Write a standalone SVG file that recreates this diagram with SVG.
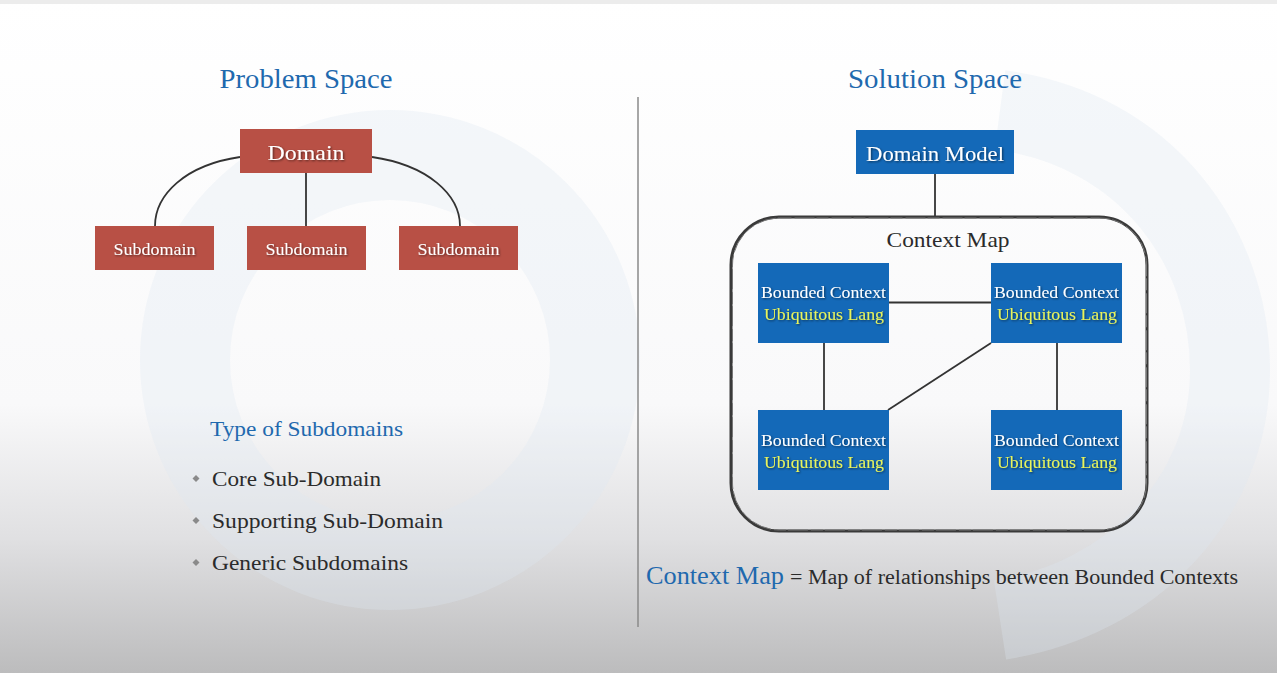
<svg xmlns="http://www.w3.org/2000/svg" width="1277" height="673" viewBox="0 0 1277 673">
<defs>
<linearGradient id="bg" x1="0" y1="0" x2="0" y2="1">
<stop offset="0" stop-color="#ffffff"/>
<stop offset="0.6" stop-color="#f9f9fa"/>
<stop offset="0.8" stop-color="#e0e0e2"/>
<stop offset="1" stop-color="#bcbcbd"/>
</linearGradient>
<filter id="sh" x="-10%" y="-30%" width="120%" height="160%">
<feDropShadow dx="1" dy="1" stdDeviation="0.8" flood-color="#000" flood-opacity="0.55"/>
</filter>
<style>
.t{font-family:"Liberation Serif","DejaVu Serif",serif;}
.blue{fill:#1f69ae;}
.dark{fill:#2b2b2b;}
.red{fill:#b85045;}
.bc{fill:#1469b8;}
.w{fill:#ffffff;}
.y{fill:#e9f35a;}
.ln{stroke:#333;stroke-width:1.8;fill:none;}
</style>
</defs>
<rect width="1277" height="673" fill="url(#bg)"/>
<rect width="1277" height="4" fill="#ececec"/>
<!-- faint watermark -->
<g fill="none" stroke="#dfe7f3" stroke-opacity="0.3">
<circle cx="390" cy="360" r="205" stroke-width="90"/>
<path d="M1000,110 C1150,130 1230,250 1230,370 C1230,500 1130,600 1000,620" stroke-width="80"/>
</g>
<line x1="638" y1="97" x2="638" y2="627" stroke="#8a8a8a" stroke-width="1.5"/>

<text class="t blue" x="306" y="88" font-size="27" text-anchor="middle" textLength="173" lengthAdjust="spacingAndGlyphs">Problem Space</text>
<text class="t blue" x="935" y="88" font-size="27" text-anchor="middle" textLength="174" lengthAdjust="spacingAndGlyphs">Solution Space</text>

<g id="connectors">
<path class="ln" d="M306,173 V226"/>
<path class="ln" d="M240,157 C185,165 155,195 155,226"/>
<path class="ln" d="M372,157 C428,165 460,195 460,226"/>
<path class="ln" d="M935,174 V217"/>
<path class="ln" stroke="#444" d="M889,302.5 H991"/>
<path class="ln" stroke="#444" d="M824,343 V410"/>
<path class="ln" stroke="#444" d="M1057,343 V410"/>
<path class="ln" stroke="#444" d="M991,343 L888,410"/>
</g>

<g id="domain">
<rect class="red" x="240" y="129" width="132" height="44"/>
<text class="t w" filter="url(#sh)" x="306" y="160" font-size="22" text-anchor="middle" textLength="77" lengthAdjust="spacingAndGlyphs">Domain</text>
</g>
<g id="subdomain1">
<rect class="red" x="95" y="226" width="119" height="44"/>
<text class="t w" filter="url(#sh)" x="154.5" y="255" font-size="16" text-anchor="middle" textLength="82" lengthAdjust="spacingAndGlyphs">Subdomain</text>
</g>
<g id="subdomain2">
<rect class="red" x="247" y="226" width="119" height="44"/>
<text class="t w" filter="url(#sh)" x="306.5" y="255" font-size="16" text-anchor="middle" textLength="82" lengthAdjust="spacingAndGlyphs">Subdomain</text>
</g>
<g id="subdomain3">
<rect class="red" x="399" y="226" width="119" height="44"/>
<text class="t w" filter="url(#sh)" x="458.5" y="255" font-size="16" text-anchor="middle" textLength="82" lengthAdjust="spacingAndGlyphs">Subdomain</text>
</g>

<g id="domain-model">
<rect class="bc" x="856" y="130" width="158" height="44"/>
<text class="t w" filter="url(#sh)" x="935" y="161" font-size="22" text-anchor="middle" textLength="138" lengthAdjust="spacingAndGlyphs">Domain Model</text>
</g>

<g id="context-map">
<rect x="731" y="217" width="416" height="314" rx="48" ry="48" fill="none" stroke="#3a3a3a" stroke-width="3"/>
<rect x="732.5" y="218" width="414" height="312" rx="47" ry="47" fill="none" stroke="#777" stroke-width="1" stroke-dasharray="12 3 20 2"/>
<text class="t dark" x="948" y="247" font-size="22" text-anchor="middle" textLength="123" lengthAdjust="spacingAndGlyphs">Context Map</text>
</g>

<g id="bc1">
<rect class="bc" x="758" y="263" width="131" height="80"/>
<text class="t w" filter="url(#sh)" x="823.5" y="298" font-size="16" text-anchor="middle" textLength="125" lengthAdjust="spacingAndGlyphs">Bounded Context</text>
<text class="t y" filter="url(#sh)" x="824" y="320" font-size="16" text-anchor="middle" textLength="120" lengthAdjust="spacingAndGlyphs">Ubiquitous Lang</text>
</g>
<g id="bc2">
<rect class="bc" x="991" y="263" width="131" height="80"/>
<text class="t w" filter="url(#sh)" x="1056.5" y="298" font-size="16" text-anchor="middle" textLength="125" lengthAdjust="spacingAndGlyphs">Bounded Context</text>
<text class="t y" filter="url(#sh)" x="1057" y="320" font-size="16" text-anchor="middle" textLength="120" lengthAdjust="spacingAndGlyphs">Ubiquitous Lang</text>
</g>
<g id="bc3">
<rect class="bc" x="758" y="410" width="131" height="80"/>
<text class="t w" filter="url(#sh)" x="823.5" y="446" font-size="16" text-anchor="middle" textLength="125" lengthAdjust="spacingAndGlyphs">Bounded Context</text>
<text class="t y" filter="url(#sh)" x="824" y="468" font-size="16" text-anchor="middle" textLength="120" lengthAdjust="spacingAndGlyphs">Ubiquitous Lang</text>
</g>
<g id="bc4">
<rect class="bc" x="991" y="410" width="131" height="80"/>
<text class="t w" filter="url(#sh)" x="1056.5" y="446" font-size="16" text-anchor="middle" textLength="125" lengthAdjust="spacingAndGlyphs">Bounded Context</text>
<text class="t y" filter="url(#sh)" x="1057" y="468" font-size="16" text-anchor="middle" textLength="120" lengthAdjust="spacingAndGlyphs">Ubiquitous Lang</text>
</g>

<g id="types">
<text class="t blue" x="210" y="436" font-size="21" textLength="193" lengthAdjust="spacingAndGlyphs">Type of Subdomains</text>
<g fill="#8a8a8a">
<path d="M196,475 l3.5,3.5 l-3.5,3.5 l-3.5,-3.5z"/>
<path d="M196,517 l3.5,3.5 l-3.5,3.5 l-3.5,-3.5z"/>
<path d="M196,559 l3.5,3.5 l-3.5,3.5 l-3.5,-3.5z"/>
</g>
<text class="t dark" x="212" y="486" font-size="21" textLength="169" lengthAdjust="spacingAndGlyphs">Core Sub-Domain</text>
<text class="t dark" x="212" y="528" font-size="21" textLength="231" lengthAdjust="spacingAndGlyphs">Supporting Sub-Domain</text>
<text class="t dark" x="212" y="570" font-size="21" textLength="196" lengthAdjust="spacingAndGlyphs">Generic Subdomains</text>
</g>

<g id="caption">
<text class="t blue" x="646" y="584" font-size="26" textLength="138" lengthAdjust="spacingAndGlyphs">Context Map</text>
<text class="t dark" x="790" y="584" font-size="20" textLength="448" lengthAdjust="spacingAndGlyphs">= Map of relationships between Bounded Contexts</text>
</g>
</svg>
